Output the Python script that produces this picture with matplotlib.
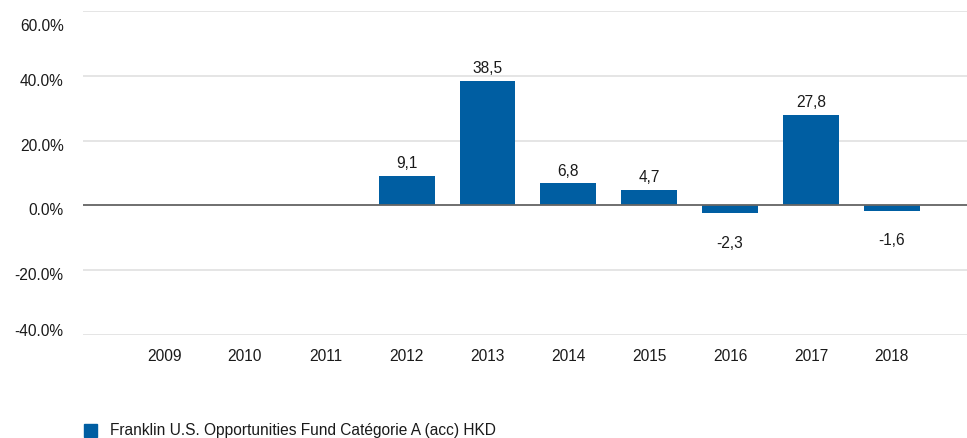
import numpy as np
import matplotlib.pyplot as plt
from matplotlib import font_manager
from matplotlib.transforms import ScaledTranslation

# condensed look of the original; fall back to regular width if narrow is missing
try:
    font_manager.findfont('Liberation Sans Narrow', fallback_to_default=False)
    plt.rcParams['font.family'] = ['Liberation Sans Narrow', 'DejaVu Sans']
    fs = 13.4
except ValueError:
    plt.rcParams['font.family'] = ['Liberation Sans', 'DejaVu Sans']
    fs = 11.2

years = ['2009', '2010', '2011', '2012', '2013', '2014', '2015', '2016', '2017', '2018']
values = [np.nan, np.nan, np.nan, 9.1, 38.5, 6.8, 4.7, -2.3, 27.8, -1.6]
series_name = 'Franklin U.S. Opportunities Fund Catégorie A (acc) HKD'
yticks = [-40, -20, 0, 20, 40, 60]

blue = '#005ea2'
txt = '#1a1a1a'

fig = plt.figure(figsize=(9.67, 4.38), dpi=100)
ax = fig.add_axes([0.086, 0.235, 0.914, 0.74])

x = np.arange(len(years))
vals = np.array(values)
ax.bar(x, vals, width=0.69, color=blue, zorder=3)

for xi, v in zip(x, vals):
    if np.isnan(v):
        continue
    lbl = f'{v:.1f}'.replace('.', ',')
    if v >= 0:
        ax.text(xi, v + 1.5, lbl, ha='center', va='bottom', fontsize=fs, color=txt)
    else:
        ax.text(xi, v - 7.0, lbl, ha='center', va='top', fontsize=fs, color=txt)

ax.axhline(0, color='#666666', lw=1.3, zorder=4)
ax.set_ylim(-40, 60)
ax.set_xlim(-1.0, 9.93)
ax.set_yticks(yticks)
ax.set_yticklabels([f'{t:.1f}%' for t in yticks], fontsize=fs, color=txt)
ax.set_xticks(x)
ax.set_xticklabels(years, fontsize=fs, color=txt)
ax.tick_params(length=0)
ax.tick_params(axis='y', pad=14)
ax.tick_params(axis='x', pad=10)
ax.grid(axis='y', color='#e0e0e0', lw=1.2, zorder=0)
for s in ax.spines.values():
    s.set_visible(False)

# the original squeezes the outer y labels inward
shifts = [5, -4, -4, -4, -4, -14]
for lab, dy in zip(ax.get_yticklabels(), shifts):
    lab.set_transform(lab.get_transform() + ScaledTranslation(0, dy / 100, fig.dpi_scale_trans))

fig.patches.append(plt.Rectangle((84 / 967, 1 / 438), 13 / 967, 13 / 438,
                                 transform=fig.transFigure, color=blue))
fig.text(110 / 967, 7 / 438, series_name, fontsize=fs, va='center', color=txt)

fig.savefig('out.png', dpi=100)
